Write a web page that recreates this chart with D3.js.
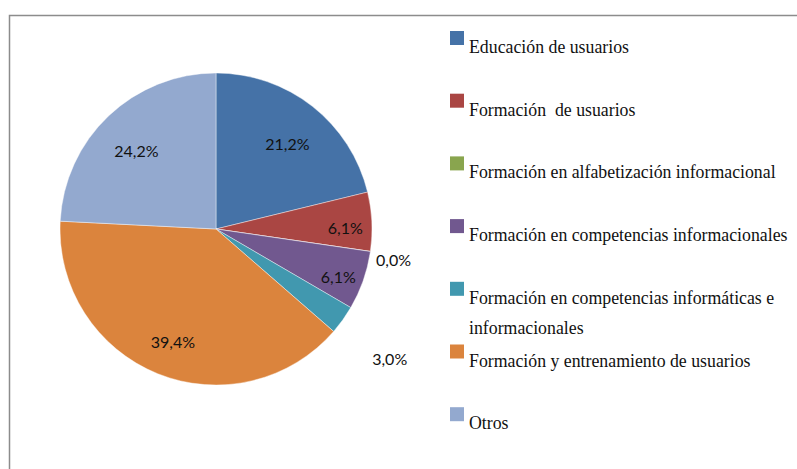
<!DOCTYPE html>
<html>
<head>
<meta charset="utf-8">
<script src="https://cdn.jsdelivr.net/npm/d3@7"></script>
<style>
  body { margin: 0; background: #fff; }
</style>
</head>
<body>
<svg id="chart" width="797" height="469"></svg>
<script>
const categories = [
  "Educación de usuarios",
  "Formación  de usuarios",
  "Formación en alfabetización informacional",
  "Formación en competencias informacionales",
  "Formación en competencias informáticas e informacionales",
  "Formación y entrenamiento de usuarios",
  "Otros"
];
const values = [21.2, 6.1, 0.0, 6.1, 3.0, 39.4, 24.2];
const valueLabels = ["21,2%", "6,1%", "0,0%", "6,1%", "3,0%", "39,4%", "24,2%"];
const legendLines = [
  ["Educación de usuarios"],
  ["Formación  de usuarios"],
  ["Formación en alfabetización informacional"],
  ["Formación en competencias informacionales"],
  ["Formación en competencias informáticas e", "informacionales"],
  ["Formación y entrenamiento de usuarios"],
  ["Otros"]
];
const colors = ["#4572a7", "#aa4643", "#89a54e", "#71588f", "#4198af", "#db843d", "#93a9cf"];

const svg = d3.select("#chart");

// frame (only top and left edges show in the picture)
svg.append("rect")
    .attr("x", 9.5).attr("y", 15.5)
    .attr("width", 900).attr("height", 600)
    .attr("fill", "none")
    .attr("stroke", "#8c8c8c")
    .attr("stroke-width", 1.5);

const cx = 216, cy = 229, R = 156;
const g = svg.append("g").attr("transform", "translate(" + cx + "," + cy + ")");

const data = categories.map((c, i) => ({name: c, value: values[i], label: valueLabels[i], color: colors[i]}));

const pie = d3.pie().sort(null).value(d => d.value);
const arc = d3.arc().innerRadius(0).outerRadius(R);
const arcs = pie(data);

g.selectAll("path.slice")
  .data(arcs)
  .enter().append("path")
    .attr("class", "slice")
    .attr("d", arc)
    .attr("fill", d => d.data.color)
    .attr("stroke", "#fff")
    .attr("stroke-width", 0.6)
    .attr("stroke-opacity", 0.7);

// label radius: big slices inside, thin ones near the edge, tiny ones outside
function labelRadius(v) {
  if (v < 1) return R * 1.15;
  if (v < 5) return R * 1.37;
  if (v < 10) return R * 0.83;
  return R * 0.74;
}

g.selectAll("text.val")
  .data(arcs)
  .enter().append("text")
    .attr("class", "val")
    .attr("transform", d => {
      const r = labelRadius(d.data.value);
      const c = d3.arc().innerRadius(r).outerRadius(r).centroid(d);
      return "translate(" + c[0] + "," + c[1] + ")";
    })
    .attr("text-anchor", "middle")
    .attr("dy", "0.72em")
    .style("font-family", "Lato, 'Open Sans', sans-serif")
    .style("font-size", "16px")
    .attr("fill", "#111")
    .text(d => d.data.label);

// legend
const legend = svg.append("g").attr("transform", "translate(450,31)");
const rowH = 62.7;
const item = legend.selectAll("g.item")
  .data(data)
  .enter().append("g")
    .attr("class", "item")
    .attr("transform", (d, i) => "translate(0," + (i * rowH) + ")");

item.append("rect")
    .attr("width", 14).attr("height", 14)
    .attr("fill", d => d.color);

item.each(function(d, i) {
  const t = d3.select(this).append("text")
    .attr("x", 19).attr("y", 22)
    .attr("font-family", "Liberation Serif, Tinos, DejaVu Serif, serif")
    .attr("font-size", "17.8px")
    .attr("fill", "#111")
    .attr("xml:space", "preserve");
  legendLines[i].forEach((line, j) => {
    t.append("tspan").attr("x", 19).attr("y", 22 + j * 30).text(line);
  });
});
</script>
</body>
</html>
